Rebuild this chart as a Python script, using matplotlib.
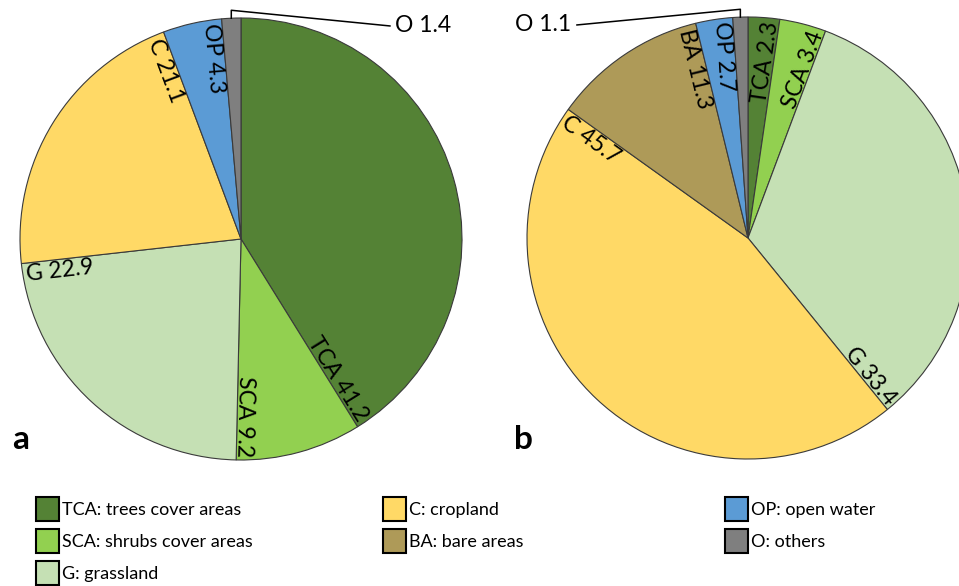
import numpy as np
import matplotlib.pyplot as plt
from matplotlib.patches import Patch

plt.rcParams['font.family'] = ['Lato', 'DejaVu Sans']

# dados (percentuais, sentido horário a partir do topo)
categorias_a = ['TCA', 'SCA', 'G', 'C', 'OP', 'O']
valores_a = [41.2, 9.2, 22.9, 21.1, 4.3, 1.4]

categorias_b = ['TCA', 'SCA', 'G', 'C', 'BA', 'OP', 'O']
valores_b = [2.3, 3.4, 33.4, 45.7, 11.3, 2.7, 1.1]

legenda_cats = ['TCA', 'SCA', 'G', 'C', 'BA', 'OP', 'O']
legenda_textos = ['TCA: trees cover areas', 'SCA: shrubs cover areas', 'G: grassland',
                  'C: cropland', 'BA: bare areas', 'OP: open water', 'O: others']

cores = {'TCA': '#548235', 'SCA': '#92D050', 'G': '#C5E0B4', 'C': '#FFD966',
         'BA': '#AE9A58', 'OP': '#5B9BD5', 'O': '#7F7F7F'}

W, H = 959, 586
R = 221  # raio em pixels


def criar_eixo(fig, cx, cy):
    ax = fig.add_axes([(cx - R) / W, (H - cy - R) / H, 2 * R / W, 2 * R / H])
    return ax


def desenhar_pizza(ax, cats, vals, pos_o, ha_o):
    wedges, _ = ax.pie(vals, colors=[cores[c] for c in cats], startangle=90,
                       counterclock=False,
                       wedgeprops=dict(edgecolor='#3a3a3a', linewidth=0.8))
    ax.set_xlim(-1, 1)
    ax.set_ylim(-1, 1)
    ax.set_aspect('equal')
    ax.axis('off')

    for w, cat, v in zip(wedges, cats, vals):
        rotulo = f'{cat} {v}'
        if cat == 'O':
            meio = np.deg2rad((w.theta1 + w.theta2) / 2)
            x0, y0 = np.cos(meio), np.sin(meio)
            ax.plot([x0, x0, pos_o[0]], [y0, 1.035, pos_o[1]], color='black',
                    lw=1.1, clip_on=False)
            xt = pos_o[0] + (0.025 if ha_o == 'left' else -0.025)
            ax.text(xt, pos_o[1], rotulo, ha=ha_o, va='center', fontsize=16.5)
            continue
        # borda final da fatia (sentido horário)
        t = (w.theta1 + 180) % 360 - 180
        u = np.array([np.cos(np.deg2rad(t)), np.sin(np.deg2rad(t))])
        n = np.array([-u[1], u[0]])
        p = 0.985 * u + 0.006 * n
        if -95 <= t <= 90:
            ax.text(p[0], p[1], rotulo, rotation=t, rotation_mode='anchor',
                    ha='right', va='baseline', fontsize=16.5)
        else:
            ax.text(p[0], p[1], rotulo, rotation=t - 180 if t > 0 else t + 180,
                    rotation_mode='anchor', ha='left', va='top', fontsize=16.5)


fig = plt.figure(figsize=(W / 100, H / 100), dpi=100)

ax_a = criar_eixo(fig, 241, 239)
desenhar_pizza(ax_a, categorias_a, valores_a, (0.674, 0.964), 'left')

ax_b = criar_eixo(fig, 748, 238)
desenhar_pizza(ax_b, categorias_b, valores_b, (-0.774, 0.964), 'right')

fig.text(12 / W, 1 - 449 / H, 'a', fontsize=24, fontweight='bold', va='baseline')
fig.text(514 / W, 1 - 449 / H, 'b', fontsize=24, fontweight='bold', va='baseline')

# legenda em três colunas
handles = [Patch(facecolor=cores[c], edgecolor='black', linewidth=1.5) for c in legenda_cats]
grupos = [(0, 3, 36), (3, 5, 383), (5, 7, 725)]
for ini, fim, x in grupos:
    fig.legend(handles=handles[ini:fim], labels=legenda_textos[ini:fim],
               loc='upper left', bbox_to_anchor=(x / W, 1 - 497 / H),
               frameon=False, fontsize=13, borderpad=0, borderaxespad=0,
               handlelength=1.3, handleheight=1.67, handletextpad=0.15,
               labelspacing=0.45)

fig.savefig('out.png', dpi=100)
